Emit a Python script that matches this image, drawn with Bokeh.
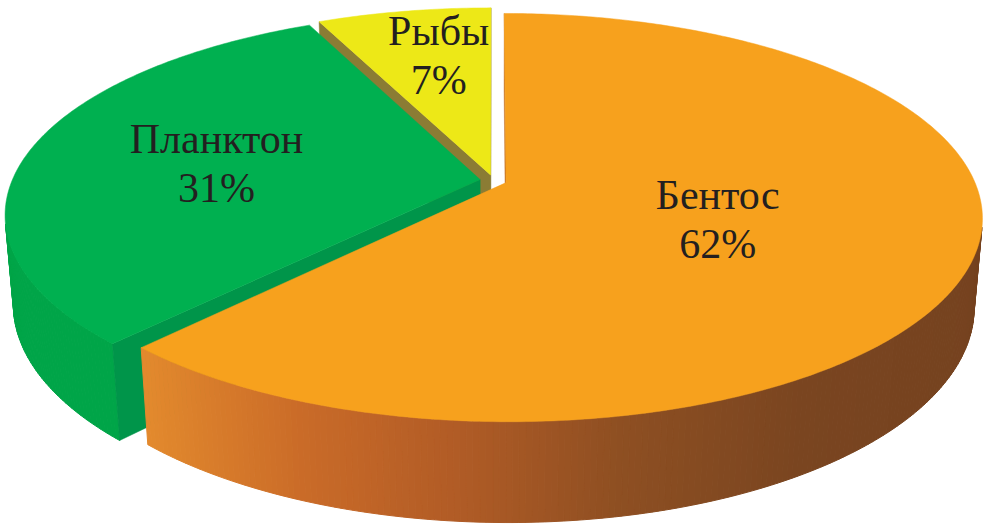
import numpy as np
from bokeh.plotting import figure
from bokeh.models import Range1d
from bokeh.embed import file_html
from bokeh.resources import INLINE
from bokeh.core.properties import value

# ---------------- data ----------------
categories = ["Бентос", "Планктон", "Рыбы"]
percents = [62, 31, 7]
pct_labels = ["62%", "31%", "7%"]

# ---------------- style ----------------
top_colors = ["#F7A11D", "#00B050", "#EDE817"]
wall_colors = [None, "#00A548", "#8B7C34"]
face_colors = ["#C9782A", "#00954A", "#8B7C34"]
# horizontal gradient of the orange wall (screen x, colour)
grad_stops = [(140, "#E38A2D"), (300, "#CA6B28"), (450, "#B25C26"),
              (620, "#8E4F22"), (800, "#7A4520"), (990, "#75421F")]
label_radius = [0.47, 0.58, 0.70]
label_angle_shift = [0.0, 0.0, 2.3]   # degrees
FONT = value("Liberation Serif")

# ---------------- 3D projection ----------------
ALPHA = np.radians(24.95)
SA, CA = np.sin(ALPHA), np.cos(ALPHA)
DIST = 5.30
F = 468.0 * DIST
CX, CY = 493.0, 180.0
EXPL = 0.029
H = 0.21
CAM = np.array([0.0, -DIST * CA, DIST * SA])


def proj(X, Yd, Z):
    X = np.asarray(X, float)
    Yd = np.asarray(Yd, float)
    Z = np.asarray(Z, float)
    v = Yd * SA + Z * CA
    w = DIST + Yd * CA - Z * SA
    return CX + F * X / w, CY - F * v / w


def hex2rgb(h):
    h = h.lstrip("#")
    return np.array([int(h[i:i + 2], 16) for i in (0, 2, 4)], float)


def grad_color(x):
    xs = [s[0] for s in grad_stops]
    cols = np.array([hex2rgb(s[1]) for s in grad_stops])
    rgb = [np.interp(x, xs, cols[:, k]) for k in range(3)]
    return "#%02X%02X%02X" % tuple(int(round(c)) for c in rgb)


total = float(sum(percents))
bounds = np.concatenate([[0], np.cumsum(percents)]) / total * 360.0

p = figure(width=989, height=532, x_range=Range1d(0, 989), y_range=Range1d(532, 0),
           output_backend="svg", toolbar_location=None, min_border=0,
           x_axis_location=None, y_axis_location=None)
p.grid.visible = False
p.outline_line_color = None
p.background_fill_color = "white"
p.border_fill_color = "white"

slices = []
for i in range(len(percents)):
    a0, a1 = np.radians(bounds[i]), np.radians(bounds[i + 1])
    mid = 0.5 * (a0 + a1)
    ex, ey = EXPL * np.sin(mid), EXPL * np.cos(mid)
    slices.append((i, a0, a1, mid, ex, ey))

# draw back slices first
order = sorted(slices, key=lambda s: -np.cos(s[3]))

for (i, a0, a1, mid, ex, ey) in order:
    n = max(8, int(np.degrees(a1 - a0) * 1.5))
    phi = np.linspace(a0, a1, n)
    Xr = ex + np.sin(phi)
    Yr = ey + np.cos(phi)
    tx, ty = proj(Xr, Yr, np.zeros_like(phi))
    bx, by = proj(Xr, Yr, -H * np.ones_like(phi))

    # outer wall (front-facing strips only)
    xs, ys, cs = [], [], []
    for k in range(n - 1):
        pm = 0.5 * (phi[k] + phi[k + 1])
        pt = np.array([ex + np.sin(pm), ey + np.cos(pm), -H / 2])
        nrm = np.array([np.sin(pm), np.cos(pm), 0.0])
        if np.dot(CAM - pt, nrm) <= 0:
            continue
        xs.append([tx[k], tx[k + 1], bx[k + 1], bx[k]])
        ys.append([ty[k], ty[k + 1], by[k + 1], by[k]])
        if wall_colors[i] is None:
            cs.append(grad_color(0.5 * (tx[k] + tx[k + 1])))
        else:
            cs.append(wall_colors[i])
    if xs:
        p.patches(xs, ys, fill_color=cs, line_color=cs, line_width=1)

    # radial faces
    for a, nrm2 in ((a0, (-np.cos(a0), np.sin(a0))), (a1, (np.cos(a1), -np.sin(a1)))):
        pt = np.array([ex + 0.5 * np.sin(a), ey + 0.5 * np.cos(a), -H / 2])
        nrm = np.array([nrm2[0], nrm2[1], 0.0])
        if np.dot(CAM - pt, nrm) <= 0:
            continue
        fx = [ex, ex + np.sin(a), ex + np.sin(a), ex]
        fy = [ey, ey + np.cos(a), ey + np.cos(a), ey]
        fz = [0, 0, -H, -H]
        px, py = proj(fx, fy, fz)
        p.patch(list(px), list(py), fill_color=face_colors[i],
                line_color=face_colors[i], line_width=0.5)

    # top surface
    cx0, cy0 = proj(ex, ey, 0.0)
    p.patch([float(cx0)] + list(tx), [float(cy0)] + list(ty),
            fill_color=top_colors[i], line_color=top_colors[i], line_width=0.5)

# labels
name_x, name_y, pct_x, pct_y = [], [], [], []
for (i, a0, a1, mid, ex, ey) in slices:
    r = label_radius[i]
    am = mid + np.radians(label_angle_shift[i])
    lx, ly = proj(ex + r * np.sin(am), ey + r * np.cos(am), 0.0)
    name_x.append(float(lx)); name_y.append(float(ly) - 23)
    pct_x.append(float(lx)); pct_y.append(float(ly) + 26)

p.text(x=name_x, y=name_y, text=categories, text_font=FONT,
       text_font_size="42px", text_align="center", text_baseline="alphabetic",
       text_color="#231F20")
p.text(x=pct_x, y=pct_y, text=pct_labels, text_font=FONT,
       text_font_size="42px", text_align="center", text_baseline="alphabetic",
       text_color="#231F20")

open("out.html", "w").write(file_html(p, INLINE))
